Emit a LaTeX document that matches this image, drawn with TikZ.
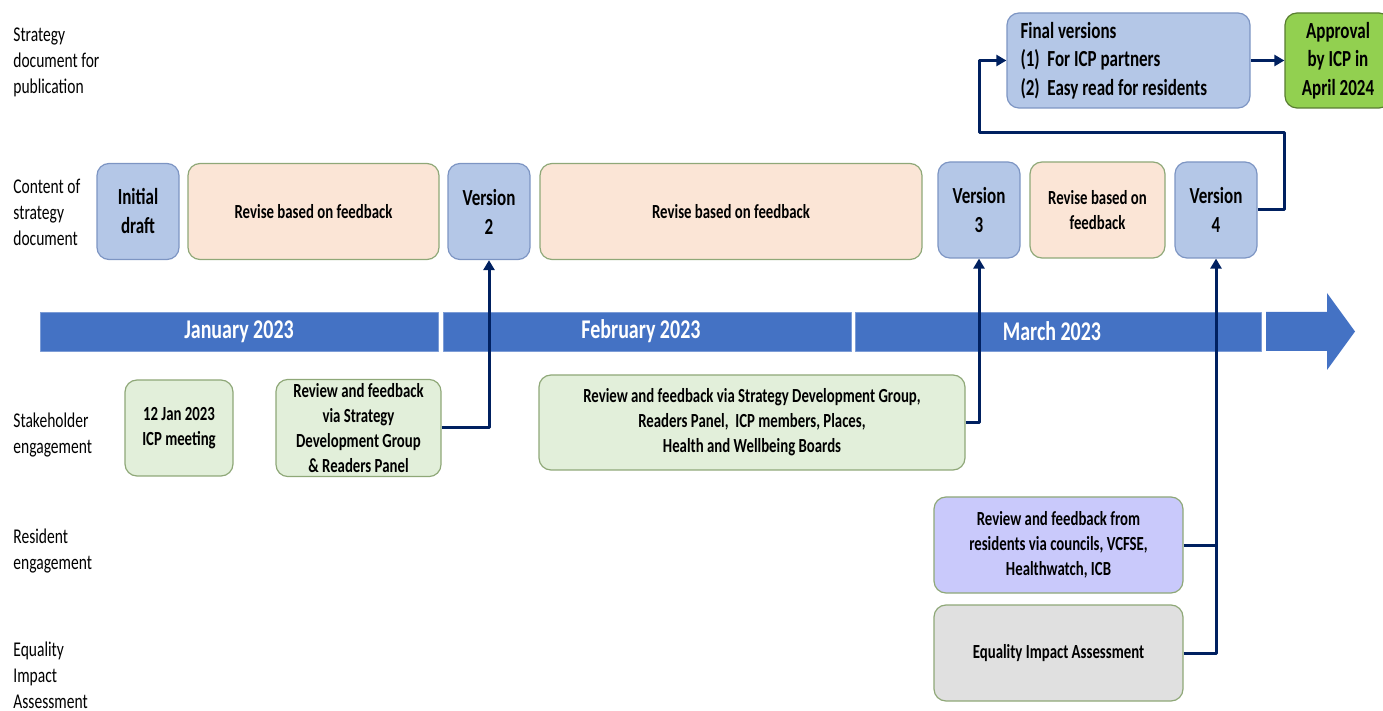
\documentclass[tikz,border=0pt]{standalone}
\usepackage{fontspec}
\setmainfont[FakeStretch=0.74]{Carlito}
\usetikzlibrary{arrows.meta}
\definecolor{docblue}{HTML}{B4C7E7}
\definecolor{docedge}{HTML}{7D95C3}
\definecolor{revpeach}{HTML}{FBE5D6}
\definecolor{sagegreen}{HTML}{E2EFDA}
\definecolor{sageedge}{HTML}{8FA878}
\definecolor{lavender}{HTML}{C9C9FB}
\definecolor{eiagrey}{HTML}{E0E0E0}
\definecolor{approvegreen}{HTML}{92D050}
\definecolor{monthblue}{HTML}{4472C4}
\definecolor{navy}{HTML}{002060}
\begin{document}
\begin{tikzpicture}[x=0.5pt, y=-0.5pt, line join=round,
	box/.style={draw=sageedge, rounded corners=6pt, align=center, inner sep=2pt, line width=0.6pt,
		minimum height=48pt, font=\bfseries\fontsize{10}{12.5}\selectfont},
	docbox/.style={box, fill=docblue, draw=docedge, minimum width=41pt, font=\bfseries\fontsize{11.5}{14.5}\selectfont},
	revbox/.style={box, fill=revpeach},
	stakebox/.style={box, fill=sagegreen},
	month/.style={fill=monthblue, draw=monthblue!70!white, line width=0.4pt, text=white, inner sep=0pt,
		minimum height=19.5pt, font=\bfseries\fontsize{13.5}{16}\selectfont},
	rowlabel/.style={anchor=west, align=left, inner sep=0pt, font=\fontsize{10.5}{13}\selectfont},
	flow/.style={draw=navy, line width=1.5pt, -{Triangle[length=5pt, width=5.5pt]}}]
	\useasboundingbox (0,0) rectangle (1383,711);

	% row headings
	\node[rowlabel] (hpub) at (13,62) {Strategy\\document for\\publication};
	\node[rowlabel] (hcontent) at (13,212) {Content of\\strategy\\document};
	\node[rowlabel] (hstake) at (13,435.5) {Stakeholder\\engagement};
	\node[rowlabel] (hres) at (13,551.5) {Resident\\engagement};
	\node[rowlabel] (heia) at (13,675) {Equality\\Impact\\Assessment};

	% timeline
	\node[month, minimum width=199pt] (jan) at (239,331.5) {January 2023};
	\node[month, minimum width=204pt] (feb) at (647,331.5) {\hspace*{-6pt}February 2023};
	\node[month, minimum width=203pt] (mar) at (1058,331.5) {\hspace*{-6pt}March 2023};
	\fill[monthblue] (1266,312) -- (1327,312) -- (1327,293) -- (1355,331.5)
		-- (1327,370) -- (1327,351) -- (1266,351) -- cycle;

	% content of the strategy document
	\node[docbox] (draft) at (138,211.5) {Initial\\draft};
	\node[revbox, minimum width=125.5pt] (rev1) at (313.5,211.5) {Revise based on feedback};
	\node[docbox] (ver2) at (489,211.5) {Version\\2};
	\node[revbox, minimum width=191pt] (rev2) at (731,211.5) {Revise based on feedback};
	\node[docbox] (ver3) at (979,210) {Version\\3};
	\node[revbox, minimum width=67.5pt] (rev3) at (1097.5,210) {Revise based on\\feedback};
	\node[docbox] (ver4) at (1216,210) {Version\\4};

	% publication
	\node[docbox, minimum width=121.5pt, minimum height=47.5pt, align=flush left, text width=108pt,
		font=\bfseries\fontsize{11.5}{14.2}\selectfont] (final) at (1128.5,60.5)
		{Final versions\\(1)\ \ For ICP partners\\(2)\ \ Easy read for residents};
	\node[box, fill=approvegreen, draw=approvegreen!60!black, minimum width=53pt, minimum height=47.5pt,
		font=\bfseries\fontsize{11.5}{14.2}\selectfont] (approval) at (1338,60.5) {Approval\\by ICP in\\April 2024};

	% engagement
	\node[stakebox, minimum width=54pt] (icpmeet) at (179,428) {12 Jan 2023\\ICP meeting};
	\node[stakebox, minimum width=82.5pt] (sdg) at (358.5,428)
		{Review and feedback\\via Strategy\\Development Group\\\& Readers Panel};
	\node[stakebox, minimum width=213pt, minimum height=47.5pt] (wide) at (752,422.5)
		{Review and feedback via Strategy Development Group,\\Readers Panel,\ \ ICP members, Places,\\Health and Wellbeing Boards};
	\node[box, fill=lavender, minimum width=124.5pt] (resident) at (1058.5,545)
		{Review and feedback from\\residents via councils, VCFSE,\\Healthwatch, ICB};
	\node[box, fill=eiagrey, minimum width=124.5pt] (eia) at (1058.5,653) {Equality Impact Assessment};

	% feedback routes
	\coordinate (loopR) at (1284,133);
	\coordinate (loopL) at (979,133);
	\draw[flow] (sdg.east) -| (ver2.south);
	\draw[flow] (wide.east) -| (ver3.south);
	\draw[draw=navy, line width=1.5pt] (resident.east) -- (resident.east -| ver4.south);
	\draw[flow] (eia.east) -| (ver4.south);
	\draw[flow] (ver4.east) -| (loopR) -- (loopL) |- (final.west);
	\draw[flow] (final.east) -- (approval.west);
\end{tikzpicture}
\end{document}
